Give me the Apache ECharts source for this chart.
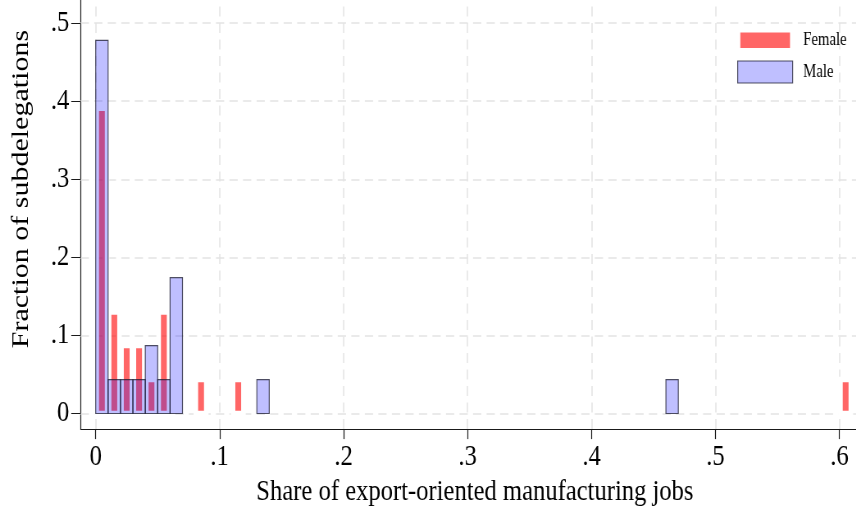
<!DOCTYPE html>
<html>
<head>
<meta charset="utf-8">
<script src="https://cdn.jsdelivr.net/npm/echarts@6/dist/echarts.min.js"></script>
<style>
  html, body { margin: 0; padding: 0; background: #fff; overflow: hidden; }
  #frame { width: 856px; height: 512px; overflow: hidden; position: relative; background: #fff; }
  /* the figure is drawn wide and squeezed horizontally; its top and right edges run past the frame */
  #chart { position: absolute; left: 0; top: -51px; width: 1060px; height: 563px;
           transform: scaleX(0.82); transform-origin: 0 0; }
</style>
</head>
<body>
<div id="frame"><div id="chart"></div></div>
<script>
// Histogram of subdelegations by share of export-oriented manufacturing jobs (bins of 0.01)
const maleBinStart = [0.00, 0.01, 0.02, 0.03, 0.04, 0.05, 0.06, 0.13, 0.46];
const maleFraction = [0.478, 0.0435, 0.0435, 0.0435, 0.087, 0.0435, 0.174, 0.0435, 0.0435];
const femaleBinCenter = [0.005, 0.015, 0.025, 0.035, 0.045, 0.055, 0.085, 0.115, 0.605];
const femaleFraction = [0.391, 0.130, 0.087, 0.087, 0.0435, 0.130, 0.0435, 0.0435, 0.0435];
const xTicks = [0, 0.1, 0.2, 0.3, 0.4, 0.5, 0.6];
const yTicks = [0, 0.1, 0.2, 0.3, 0.4, 0.5];
const seriesNames = ['Female', 'Male'];

const BIN = 0.01;            // male bar width (one bin)
const FEMALE_HALF = 0.0042;  // female bars are narrower, centred in the bin
const SERIF = 'Liberation Serif';
const FEMALE_FILL = 'rgba(255,0,0,0.6)';
const MALE_FILL = 'rgba(0,0,255,0.25)';
const MALE_EDGE = 'rgba(25,25,45,0.75)';
const AXIS = '#1a1a1a';

const fmt = v => {
  const r = +(+v).toFixed(1);
  return r === 0 ? '0' : String(r).replace(/^0\./, '.');
};

const chart = echarts.init(document.getElementById('chart'), null, { renderer: 'canvas' });

const femaleData = femaleBinCenter.map((c, i) => [c, femaleFraction[i]]);
const maleData = maleBinStart.map((s, i) => [s, s + BIN, maleFraction[i]]);

chart.setOption({
  animation: false,
  backgroundColor: '#fff',
  grid: { left: 98.4, right: 0, top: 0, bottom: 77, containLabel: false },
  legend: {
    orient: 'vertical',
    left: 896.4,
    top: 77,
    padding: 0,
    icon: 'rect',
    itemWidth: 67,
    itemHeight: 22,
    itemGap: 6,
    selectedMode: false,
    textStyle: { fontFamily: SERIF, fontSize: 18, color: '#000', padding: [0, 0, 0, 8] },
    data: [
      { name: seriesNames[0], itemStyle: { color: FEMALE_FILL, borderColor: '#fff', borderWidth: 6.4 } },
      { name: seriesNames[1], itemStyle: { color: MALE_FILL, borderColor: MALE_EDGE, borderWidth: 1.2 } }
    ]
  },
  xAxis: {
    type: 'value',
    min: -0.0121,
    max: 0.624,
    axisLine: { show: true, onZero: false, lineStyle: { color: AXIS, width: 1.2 } },
    axisTick: { show: true, customValues: xTicks, length: 10, lineStyle: { color: AXIS, width: 1.2 } },
    axisLabel: { customValues: xTicks, formatter: fmt, fontFamily: SERIF, fontSize: 30, color: '#000', margin: 13 },
    splitLine: { show: false },
    name: 'Share of export-oriented manufacturing jobs',
    nameLocation: 'middle',
    nameGap: 40,
    nameTextStyle: { fontFamily: SERIF, fontSize: 30, color: '#000' }
  },
  yAxis: {
    type: 'value',
    min: -0.02,
    max: 0.595,
    axisLine: { show: true, onZero: false, lineStyle: { color: AXIS, width: 1.2 } },
    axisTick: { show: true, customValues: yTicks, length: 11.5, lineStyle: { color: AXIS, width: 1 } },
    axisLabel: { customValues: yTicks, formatter: fmt, fontFamily: SERIF, fontSize: 30, color: '#000', margin: 14 },
    splitLine: { show: false },
    name: 'Fraction of subdelegations',
    nameLocation: 'middle',
    nameRotate: 90,
    nameGap: 57,
    nameTextStyle: { fontFamily: SERIF, fontSize: 30, color: '#000' }
  },
  series: [
    {
      // dashed reference grid at every labelled tick
      type: 'line',
      name: 'grid',
      data: [],
      silent: true,
      z: 1,
      markLine: {
        silent: true,
        z: 1,
        symbol: 'none',
        label: { show: false },
        lineStyle: { color: '#e3e3e3', type: [10, 6.5], width: 1.5 },
        data: xTicks.map(x => ({ xAxis: x })).concat(yTicks.map(y => ({ yAxis: y })))
      }
    },
    {
      type: 'custom',
      name: seriesNames[0],
      z: 3,
      itemStyle: { color: FEMALE_FILL },
      encode: { x: 0, y: 1 },
      data: femaleData,
      renderItem: (params, api) => {
        const c = api.value(0), v = api.value(1);
        const p0 = api.coord([c - FEMALE_HALF, 0]);
        const p1 = api.coord([c + FEMALE_HALF, v]);
        return {
          type: 'rect',
          shape: { x: p0[0], y: p1[1], width: p1[0] - p0[0], height: p0[1] - p1[1] },
          style: { fill: FEMALE_FILL, stroke: '#fff', lineWidth: 5.6 }
        };
      }
    },
    {
      type: 'custom',
      name: seriesNames[1],
      z: 4,
      itemStyle: { color: MALE_FILL },
      encode: { x: [0, 1], y: 2 },
      data: maleData,
      renderItem: (params, api) => {
        const p0 = api.coord([api.value(0), 0]);
        const p1 = api.coord([api.value(1), api.value(2)]);
        return {
          type: 'rect',
          shape: { x: p0[0], y: p1[1], width: p1[0] - p0[0], height: p0[1] - p1[1] },
          style: { fill: MALE_FILL, stroke: MALE_EDGE, lineWidth: 1.2 }
        };
      }
    }
  ]
});
</script>
</body>
</html>
